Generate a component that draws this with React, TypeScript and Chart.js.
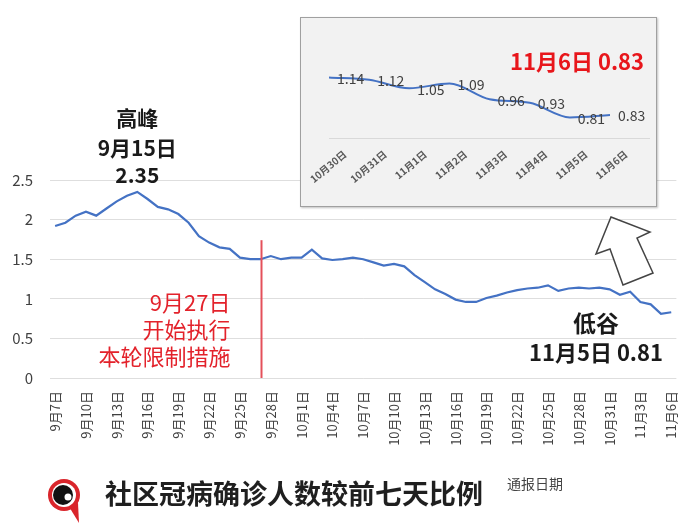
import React, { useEffect, useRef } from 'react';
import { Chart, registerables } from 'chart.js';

Chart.register(...registerables);

const dates = [
  '9月7日', '9月8日', '9月9日', '9月10日', '9月11日', '9月12日', '9月13日', '9月14日', '9月15日', '9月16日',
  '9月17日', '9月18日', '9月19日', '9月20日', '9月21日', '9月22日', '9月23日', '9月24日', '9月25日', '9月26日',
  '9月27日', '9月28日', '9月29日', '9月30日', '10月1日', '10月2日', '10月3日', '10月4日', '10月5日', '10月6日',
  '10月7日', '10月8日', '10月9日', '10月10日', '10月11日', '10月12日', '10月13日', '10月14日', '10月15日', '10月16日',
  '10月17日', '10月18日', '10月19日', '10月20日', '10月21日', '10月22日', '10月23日', '10月24日', '10月25日', '10月26日',
  '10月27日', '10月28日', '10月29日', '10月30日', '10月31日', '11月1日', '11月2日', '11月3日', '11月4日', '11月5日',
  '11月6日',
];

const ratios = [
  1.92, 1.96, 2.05, 2.10, 2.05, 2.14, 2.23, 2.30, 2.35, 2.26,
  2.16, 2.13, 2.07, 1.96, 1.79, 1.71, 1.65, 1.63, 1.52, 1.50,
  1.50, 1.54, 1.50, 1.52, 1.52, 1.62, 1.51, 1.49, 1.50, 1.52,
  1.50, 1.46, 1.42, 1.44, 1.41, 1.30, 1.21, 1.12, 1.06, 0.99,
  0.96, 0.96, 1.01, 1.04, 1.08, 1.11, 1.13, 1.14, 1.17, 1.10,
  1.13, 1.14, 1.13, 1.14, 1.12, 1.05, 1.09, 0.96, 0.93, 0.81,
  0.83,
];

const yTicks = [0, 0.5, 1, 1.5, 2, 2.5];

const insetDates = ['10月30日', '10月31日', '11月1日', '11月2日', '11月3日', '11月4日', '11月5日', '11月6日'];
const insetValues = [1.14, 1.12, 1.05, 1.09, 0.96, 0.93, 0.81, 0.83];

const peakDate = '9月15日';
const restrictionDate = '9月27日';
const troughDate = '11月5日';
const latestDate = '11月6日';

const chartTitle = '社区冠病确诊人数较前七天比例';
const xAxisTitle = '通报日期';
const restrictionLines = ['9月27日', '开始执行', '本轮限制措施'];

const FONT = '"Noto Sans CJK SC", "Noto Sans", sans-serif';
const BLUE = '#4472c4';
const RED = '#e3222b';

const mainDecor = {
  id: 'mainDecor',
  afterDraw(chart: any) {
    const { ctx } = chart;
    const x = chart.scales.x;
    const y = chart.scales.y;
    ctx.save();

    // peak annotation
    const pi = dates.indexOf(peakDate);
    const px = x.getPixelForValue(pi);
    ctx.fillStyle = '#1a1a1a';
    ctx.textAlign = 'center';
    ctx.textBaseline = 'middle';
    ctx.font = `bold 21px ${FONT}`;
    ctx.fillText('高峰', px, 118);
    ctx.fillText(peakDate, px, 148);
    ctx.fillText(ratios[pi].toFixed(2), px, 175);

    // restriction line
    const ri = dates.indexOf(restrictionDate);
    const rx = Math.round(x.getPixelForValue(ri)) + 0.5;
    ctx.strokeStyle = '#e4505a';
    ctx.lineWidth = 2;
    ctx.beginPath();
    ctx.moveTo(rx, y.getPixelForValue(1.74));
    ctx.lineTo(rx, y.getPixelForValue(0));
    ctx.stroke();

    ctx.fillStyle = RED;
    ctx.textAlign = 'right';
    ctx.font = `22px ${FONT}`;
    restrictionLines.forEach((t, i) => ctx.fillText(t, rx - 31, 303 + i * 27));

    // trough annotation
    const ti = dates.indexOf(troughDate);
    const tx = x.getPixelForValue(ti) - 65;
    ctx.fillStyle = '#1a1a1a';
    ctx.textAlign = 'center';
    ctx.font = `bold 23px ${FONT}`;
    ctx.fillText('低谷', tx, 323);
    ctx.font = `bold 22px ${FONT}`;
    ctx.fillText(`${troughDate} ${ratios[ti].toFixed(2)}`, tx, 353);

    // hollow arrow
    const pts = [[611, 217], [650, 232], [637, 238], [653, 273], [623, 285], [610, 249], [596, 254]];
    ctx.beginPath();
    pts.forEach((p, i) => (i ? ctx.lineTo(p[0], p[1]) : ctx.moveTo(p[0], p[1])));
    ctx.closePath();
    ctx.fillStyle = '#ffffff';
    ctx.fill();
    ctx.strokeStyle = '#444444';
    ctx.lineWidth = 1.5;
    ctx.stroke();

    // logo
    ctx.fillStyle = '#d9252b';
    ctx.beginPath();
    ctx.moveTo(68, 505);
    ctx.lineTo(79, 523);
    ctx.lineTo(78, 503);
    ctx.closePath();
    ctx.fill();
    ctx.beginPath();
    ctx.arc(64, 495, 16, 0, Math.PI * 2);
    ctx.fill();
    ctx.fillStyle = '#ffffff';
    ctx.beginPath();
    ctx.arc(64, 495, 12, 0, Math.PI * 2);
    ctx.fill();
    ctx.fillStyle = '#111111';
    ctx.beginPath();
    ctx.arc(63, 495, 10, 0, Math.PI * 2);
    ctx.fill();
    ctx.fillStyle = '#ffffff';
    ctx.beginPath();
    ctx.arc(68, 497, 3.5, 0, Math.PI * 2);
    ctx.fill();

    // title
    ctx.fillStyle = '#1f1f1f';
    ctx.textAlign = 'left';
    ctx.font = `bold 27px ${FONT}`;
    ctx.fillText(chartTitle, 105, 494);
    ctx.fillStyle = '#444444';
    ctx.font = `14px ${FONT}`;
    ctx.fillText(xAxisTitle, 507, 484);

    ctx.restore();
  },
};

const insetDecor = {
  id: 'insetDecor',
  afterDatasetsDraw(chart: any) {
    const { ctx, chartArea } = chart;
    const meta = chart.getDatasetMeta(0);
    ctx.save();
    ctx.strokeStyle = '#d9d9d9';
    ctx.lineWidth = 1;
    ctx.beginPath();
    ctx.moveTo(chartArea.left, chartArea.bottom + 0.5);
    ctx.lineTo(chartArea.right + 40, chartArea.bottom + 0.5);
    ctx.stroke();

    ctx.fillStyle = '#404040';
    ctx.font = `14px ${FONT}`;
    ctx.textAlign = 'left';
    ctx.textBaseline = 'middle';
    meta.data.forEach((pt: any, i: number) => {
      ctx.fillText(insetValues[i].toFixed(2), pt.x + 8, pt.y + 1);
    });

    const li = insetDates.indexOf(latestDate);
    ctx.fillStyle = '#e8161b';
    ctx.font = `bold 22px ${FONT}`;
    ctx.textAlign = 'center';
    ctx.fillText(`${latestDate} ${insetValues[li].toFixed(2)}`, 276, 44);
    ctx.restore();
  },
};

export default function App() {
  const mainRef = useRef<HTMLCanvasElement>(null);
  const insetRef = useRef<HTMLCanvasElement>(null);

  useEffect(() => {
    const main = new Chart(mainRef.current as HTMLCanvasElement, {
      type: 'line',
      data: {
        labels: dates,
        datasets: [
          {
            data: ratios,
            borderColor: BLUE,
            borderWidth: 2.2,
            pointRadius: 0,
            tension: 0,
            fill: false,
          },
        ],
      },
      options: {
        responsive: false,
        animation: false,
        devicePixelRatio: 1,
        layout: { padding: { top: 180, left: 0, right: 20, bottom: 78 } },
        plugins: { legend: { display: false }, tooltip: { enabled: false } },
        scales: {
          x: {
            type: 'category',
            offset: true,
            grid: { display: false, drawTicks: false },
            border: { display: false },
            ticks: {
              autoSkip: false,
              minRotation: 90,
              maxRotation: 90,
              padding: 13,
              color: '#404040',
              font: { size: 13, family: FONT },
              callback: (_v: any, i: number) => (i % 3 === 0 ? dates[i] : ''),
            },
            afterFit: (s: any) => {
              s.height = 75;
            },
          },
          y: {
            min: yTicks[0],
            max: yTicks[yTicks.length - 1],
            afterBuildTicks: (s: any) => {
              s.ticks = yTicks.map((v) => ({ value: v }));
            },
            grid: { color: '#dedede', drawTicks: false, lineWidth: 1 },
            border: { display: false },
            ticks: {
              padding: 17,
              color: '#404040',
              font: { size: 15, family: FONT },
              callback: (v: any) => String(v),
            },
            afterFit: (s: any) => {
              s.width = 50;
            },
          },
        },
      },
      plugins: [mainDecor],
    } as any);

    const inset = new Chart(insetRef.current as HTMLCanvasElement, {
      type: 'line',
      data: {
        labels: insetDates,
        datasets: [
          {
            data: insetValues,
            borderColor: BLUE,
            borderWidth: 2,
            pointRadius: 0,
            tension: 0.4,
            cubicInterpolationMode: 'monotone',
            fill: false,
          },
        ],
      },
      options: {
        responsive: false,
        animation: false,
        devicePixelRatio: 1,
        layout: { padding: { top: 40, left: 28, right: 46, bottom: 18 } },
        plugins: { legend: { display: false }, tooltip: { enabled: false } },
        scales: {
          x: {
            type: 'category',
            offset: false,
            grid: { display: false, drawTicks: false },
            border: { display: false },
            ticks: {
              autoSkip: false,
              minRotation: 40,
              maxRotation: 40,
              padding: 10,
              labelOffset: 16,
              color: '#595959',
              font: { size: 10, family: FONT, weight: 'bold' },
            },
            afterFit: (s: any) => {
              s.height = 50;
              s.paddingLeft = 0;
              s.paddingRight = 0;
            },
          },
          y: {
            display: false,
            min: 0.64,
            max: 1.3,
          },
        },
      },
      plugins: [insetDecor],
    } as any);

    return () => {
      main.destroy();
      inset.destroy();
    };
  }, []);

  return (
    <div
      style={{
        position: 'fixed',
        left: 0,
        top: 0,
        width: 700,
        height: 531,
        background: '#ffffff',
        overflow: 'hidden',
      }}
    >
      <canvas ref={mainRef} width={700} height={531} style={{ position: 'absolute', left: 0, top: 0, display: 'block' }} />
      <div
        style={{
          position: 'absolute',
          left: 300,
          top: 17,
          width: 357,
          height: 190,
          boxSizing: 'border-box',
          border: '1px solid #a0a0a0',
          background: '#f2f2f2',
          boxShadow: '1px 1px 2px rgba(0,0,0,0.25)',
          zIndex: 2,
        }}
      >
        <canvas ref={insetRef} width={355} height={188} style={{ display: 'block' }} />
      </div>
    </div>
  );
}
